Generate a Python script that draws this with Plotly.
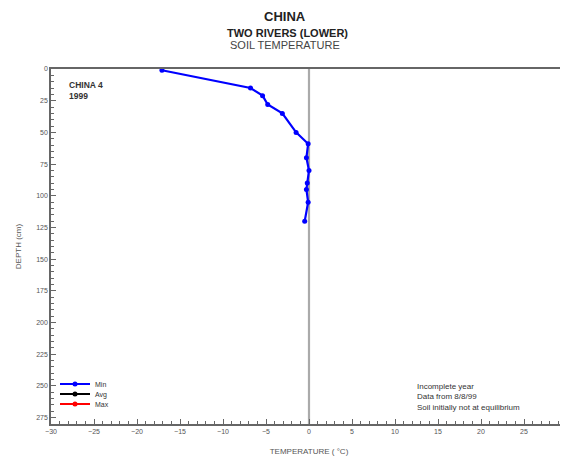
import plotly.graph_objects as go

# Soil temperature profile (Min series)
min_depth = [1, 15, 21, 28, 35, 50, 59, 70, 80, 90, 95, 105, 120]
min_temp = [-17.1, -6.8, -5.4, -4.8, -3.1, -1.5, -0.1, -0.3, 0.0, -0.2, -0.3, -0.1, -0.5]
avg_depth, avg_temp = [None], [None]
max_depth, max_temp = [None], [None]

x_ticks = [-30, -25, -20, -15, -10, -5, 0, 5, 10, 15, 20, 25, 30]
y_ticks = [0, 25, 50, 75, 100, 125, 150, 175, 200, 225, 250, 275]

FONT = "Liberation Sans, Arial, sans-serif"

# page pixel geometry (the page body adds an 8px offset)
PL, PR, PT, PB = 51, 567, 69, 424
def fx(X):
    return (X - PL) / (PR - PL)
def fy(Y):
    return (PB - Y) / (PB - PT)

fig = go.Figure()
fig.add_trace(go.Scatter(x=min_temp, y=min_depth, name="Min", mode="lines+markers", legend="legend",
                         line=dict(color="#0000ff", width=2.2), marker=dict(size=5, color="#0000ff")))
fig.add_trace(go.Scatter(x=avg_temp, y=avg_depth, name="Avg", mode="lines+markers", legend="legend2",
                         line=dict(color="#000000", width=2.2), marker=dict(size=5, color="#000000")))
fig.add_trace(go.Scatter(x=max_temp, y=max_depth, name="Max", mode="lines+markers", legend="legend3",
                         line=dict(color="#ff0000", width=2.2), marker=dict(size=5, color="#ff0000")))

axis_common = dict(showgrid=False, zeroline=False, showline=True, linecolor="#666", linewidth=1.5,
                   ticks="inside", ticklen=5, tickcolor="#666", tickwidth=1, automargin=False,
                   ticklabeloverflow="allow",
                   tickfont=dict(size=7, color="#555", family=FONT))

fig.update_xaxes(range=[-30, 30], tickvals=x_ticks, mirror=True,
                 minor=dict(dtick=1, ticks="inside", ticklen=3, tickcolor="#666"),
                 title=dict(text="TEMPERATURE ( °C)", font=dict(size=8, color="#555", family=FONT), standoff=14),
                 **axis_common)
fig.update_yaxes(range=[280, 0], tickvals=y_ticks,
                 minor=dict(dtick=5, ticks="inside", ticklen=3, tickcolor="#666"),
                 title=dict(text="DEPTH (cm)", font=dict(size=8, color="#555", family=FONT), standoff=13),
                 **axis_common)

# zero reference line
fig.add_shape(type="line", x0=0, x1=0, y0=0, y1=1, xref="x", yref="paper",
              line=dict(color="#aaa", width=2.2), layer="below")

leg = dict(xanchor="left", yanchor="middle", bgcolor="rgba(0,0,0,0)", itemwidth=30,
           font=dict(size=7, color="#333", family=FONT))

fig.update_layout(
    width=560, height=453,
    margin=dict(l=PL - 8, r=568 - PR, t=PT - 8, b=461 - PB),
    paper_bgcolor="white", plot_bgcolor="white",
    font=dict(family=FONT, color="#222"),
    showlegend=True,
    legend=dict(x=fx(55), y=fy(384), **leg),
    legend2=dict(x=fx(55), y=fy(394), **leg),
    legend3=dict(x=fx(55), y=fy(404), **leg),
    annotations=[
        dict(text="<b>CHINA</b>", x=fx(285), y=fy(17), yanchor="middle",
             font=dict(size=13, color="#222", family=FONT)),
        dict(text="<b>TWO RIVERS (LOWER)</b>", x=fx(287), y=fy(33), yanchor="middle",
             font=dict(size=11, color="#222", family=FONT)),
        dict(text="SOIL TEMPERATURE", x=fx(285), y=fy(45), yanchor="middle",
             font=dict(size=11, color="#444", family=FONT)),
        dict(text="<b>CHINA 4</b><br><b>1999</b>", x=fx(67), y=fy(78),
             xanchor="left", yanchor="top", align="left",
             font=dict(size=8.5, color="#333", family=FONT)),
        dict(text="Incomplete year<br>Data from 8/8/99<br>Soil initially not at equilibrium",
             x=fx(415), y=fy(380), xanchor="left", yanchor="top", align="left",
             font=dict(size=8, color="#333", family=FONT)),
    ],
)
for a in fig.layout.annotations:
    a.update(xref="paper", yref="paper", showarrow=False)

fig.write_html("out.html")
